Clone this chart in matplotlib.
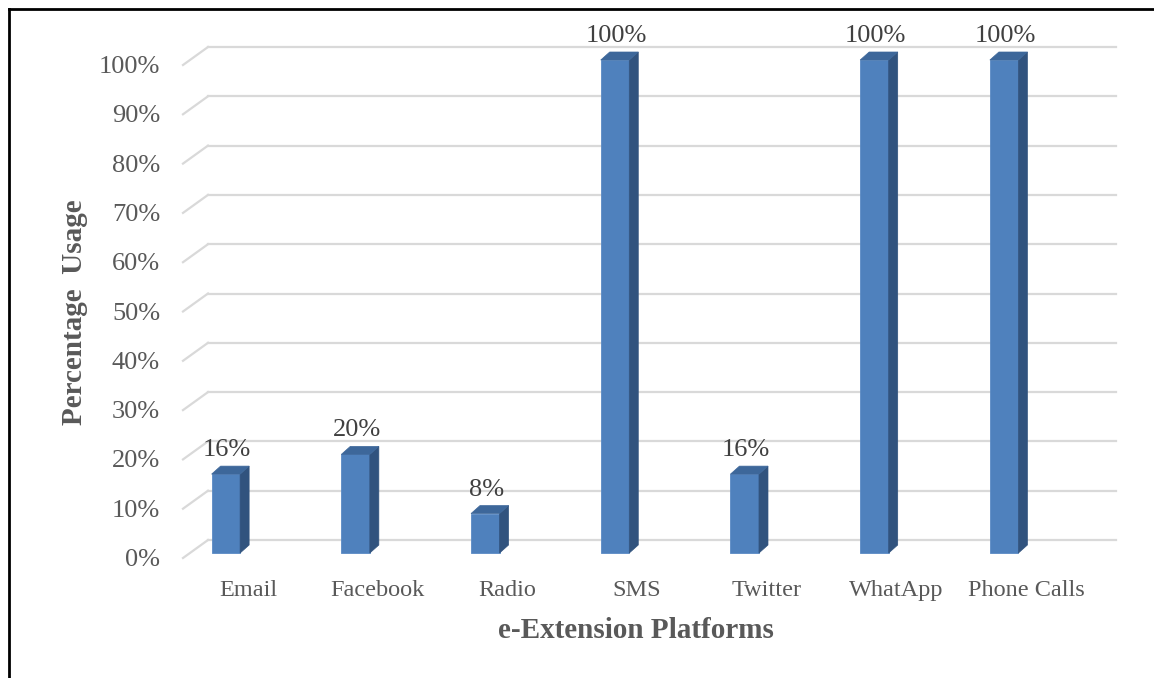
import numpy as np
import matplotlib
matplotlib.use("Agg")
import matplotlib.pyplot as plt
from matplotlib.patches import Polygon
from matplotlib.lines import Line2D
from matplotlib.transforms import offset_copy

platforms = ["Email", "Facebook", "Radio", "SMS", "Twitter", "WhatApp", "Phone Calls"]
usage = [16, 20, 8, 100, 16, 100, 100]
yticks = [0, 10, 20, 30, 40, 50, 60, 70, 80, 90, 100]

front_col = "#4f81bd"
side_col = "#31537e"
top_col = "#3d679a"
grid_col = "#d9d9d9"
text_col = "#595959"

plt.rcParams["font.family"] = ["Liberation Serif", "DejaVu Serif"]

W, H = 1154, 678
fig = plt.figure(figsize=(W / 100, H / 100), dpi=100)
ax = fig.add_axes([183 / W, (H - 558) / H, 908 / W, 493 / H])
ax.set_xlim(-0.5, len(platforms) - 0.5)
ax.set_ylim(0, 100)
ax.axis("off")

# pixel -> data helpers
px_x = (len(platforms)) / 908.0
px_y = 100 / 493.0

# gridlines: back wall plus diagonal on the side wall
back = offset_copy(ax.transData, fig=fig, x=25, y=18, units="dots")
for v in yticks:
    ax.plot([-0.5, len(platforms) - 0.5], [v, v], color=grid_col, lw=1.6,
            transform=back, clip_on=False, zorder=1)
    ax.plot([-0.5, -0.5 + 25 * px_x], [v, v + 18 * px_y], color=grid_col,
            lw=1.6, clip_on=False, zorder=1)
    ax.text(-0.5, v, f"{v}%", transform=offset_copy(ax.transData, fig=fig, x=-23, y=-2, units="dots"),
            ha="right", va="center", fontsize=19, color=text_col)

# 3D-ish bars
bw = 0.22
dx, dy = 9 * px_x, 8 * px_y
bar_tr = offset_copy(ax.transData, fig=fig, x=-22, y=5, units="dots")
x = np.arange(len(platforms))
ax.bar(x, usage, width=bw, color=front_col, edgecolor="#5a8ac4", lw=0.6,
       transform=bar_tr, zorder=3, clip_on=False)
for i, v in enumerate(usage):
    r = i + bw / 2
    l = i - bw / 2
    side = Polygon([(r, 0), (r, v), (r + dx, v + dy), (r + dx, dy)],
                   closed=True, facecolor=side_col, edgecolor=side_col,
                   lw=0.5, transform=bar_tr, zorder=3, clip_on=False)
    top = Polygon([(l, v), (r, v), (r + dx, v + dy), (l + dx, v + dy)],
                  closed=True, facecolor=top_col, edgecolor=top_col,
                  lw=0.5, transform=bar_tr, zorder=3, clip_on=False)
    ax.add_patch(side)
    ax.add_patch(top)
    ax.text(i, v, f"{v}%", transform=offset_copy(ax.transData, fig=fig, x=-21, y=29, units="dots"),
            ha="center", va="center", fontsize=19, color="#404040", zorder=4)

# category labels
for i, name in enumerate(platforms):
    ax.text(i, 0, name, transform=offset_copy(ax.transData, fig=fig, x=0, y=-38, units="dots"),
            ha="center", va="baseline", fontsize=17.5, color=text_col)

fig.text(636 / W, 1 - 630 / H, "e-Extension Platforms", ha="center", va="center",
         fontsize=21, fontweight="bold", color=text_col)
fig.text(75 / W, 1 - 312 / H, "Percentage  Usage", ha="center", va="center",
         rotation=90, fontsize=21, fontweight="bold", color=text_col)

# outer border (left and top only visible)
fig.add_artist(Line2D([9 / W, 9 / W], [0, 1 - 9 / H], color="black", lw=2))
fig.add_artist(Line2D([9 / W, 1], [1 - 9 / H, 1 - 9 / H], color="black", lw=2))

fig.savefig("out.png", dpi=100)
